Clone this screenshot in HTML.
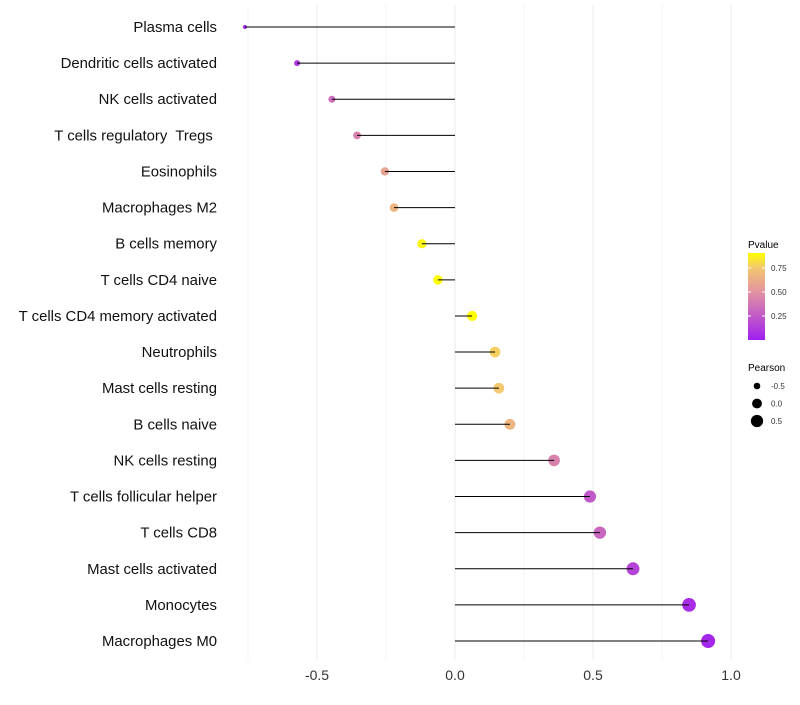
<!DOCTYPE html>
<html><head><meta charset="utf-8"><style>
body{margin:0;background:#fff;font-family:"Liberation Sans",sans-serif}
text{white-space:pre}
</style></head><body>
<svg id="chart" width="800" height="700" xmlns="http://www.w3.org/2000/svg"></svg>
<script>
const categories=["Plasma cells","Dendritic cells activated","NK cells activated","T cells regulatory  Tregs ","Eosinophils","Macrophages M2","B cells memory","T cells CD4 naive","T cells CD4 memory activated","Neutrophils","Mast cells resting","B cells naive","NK cells resting","T cells follicular helper","T cells CD8","Mast cells activated","Monocytes","Macrophages M0"];
const pearson=[-0.761,-0.572,-0.446,-0.355,-0.254,-0.221,-0.12,-0.062,0.062,0.145,0.159,0.199,0.359,0.489,0.525,0.645,0.848,0.917];
const pvalue=[0.03,0.1,0.33,0.42,0.57,0.66,0.87,0.93,0.93,0.77,0.75,0.66,0.42,0.25,0.3,0.15,0.06,0.03];
const xTicks=[-0.5,0,0.5,1.0];
const xTickLabels=["-0.5","0.0","0.5","1.0"];
const legendP=[0.25,0.5,0.75];
const legendS=[-0.5,0,0.5];

const NS="http://www.w3.org/2000/svg";
const svg=document.getElementById('chart');
function el(t,a,p){const e=document.createElementNS(NS,t);for(const k in a)e.setAttribute(k,a[k]);(p||svg).appendChild(e);return e;}
const xs=v=>455+v*276;
const ys=i=>27+i*(641-27)/(categories.length-1);
function col(p){
  const stops=[[0,[160,32,240]],[0.5,[226,148,160]],[0.75,[243,200,110]],[0.9,[255,255,0]]];
  p=Math.max(0,Math.min(0.9,p));
  let k=0;while(k<stops.length-2&&p>stops[k+1][0])k++;
  const a=stops[k],b=stops[k+1];
  const t=(p-a[0])/(b[0]-a[0]);
  const c=a[1].map((v,i)=>Math.round(v+(b[1][i]-v)*t));
  return `rgb(${c[0]},${c[1]},${c[2]})`;
}
const rs=v=>Math.sqrt(4+(v+0.76)/1.68*45);

[-0.75,-0.25,0.25,0.75].forEach(v=>{const g=el('line',{x1:xs(v),x2:xs(v),y1:5,y2:660,stroke:'#f5f5f5','stroke-width':1});});
xTicks.forEach((v,i)=>{
  const g=el('line',{x1:xs(v),x2:xs(v),y1:5,y2:660,stroke:'#ebebeb','stroke-width':1});
  
  const t=el('text',{x:xs(v),y:680,'text-anchor':'middle','font-size':14,fill:'#333'});t.textContent=xTickLabels[i];
  
});
categories.forEach((c,i)=>{
  const y=ys(i);
  const t=el('text',{x:217,y:y+5,'text-anchor':'end','font-size':14.9,fill:'#111'});t.textContent=c;
  
  const d=el('circle',{cx:xs(pearson[i]),cy:y,r:rs(pearson[i]),fill:col(pvalue[i])});
  
  const l=el('line',{x1:xs(0),x2:xs(pearson[i]),y1:y,y2:y,stroke:'#000','stroke-width':1});
  
});
const defs=el('defs',{});
const lg=el('linearGradient',{id:'pg',x1:0,y1:1,x2:0,y2:0},defs);
[0,0.25,0.5,0.75,0.9].forEach(p=>el('stop',{offset:p/0.9,'stop-color':col(p)},lg));
const lt=el('text',{x:748,y:248,'font-size':10,fill:'#000'});lt.textContent='Pvalue';

const bar=el('rect',{x:748,y:253,width:17,height:87,fill:'url(#pg)'});

legendP.forEach(p=>{const y=340-p*96;
  el('line',{x1:748,x2:751,y1:y,y2:y,stroke:'#fff'});el('line',{x1:762,x2:765,y1:y,y2:y,stroke:'#fff'});
  const t=el('text',{x:771,y:y+3,'font-size':8,fill:'#333'});t.textContent=p.toFixed(2);
  });
const st=el('text',{x:748,y:371,'font-size':10,fill:'#000'});st.textContent='Pearson';

legendS.forEach((v,i)=>{const y=386+i*17.5;
  const c=el('circle',{cx:757,cy:y,r:rs(v),fill:'#000'});
  const t=el('text',{x:771,y:y+3,'font-size':8,fill:'#333'});t.textContent=v===0?'0.0':String(v);
  });
</script>
</body></html>
